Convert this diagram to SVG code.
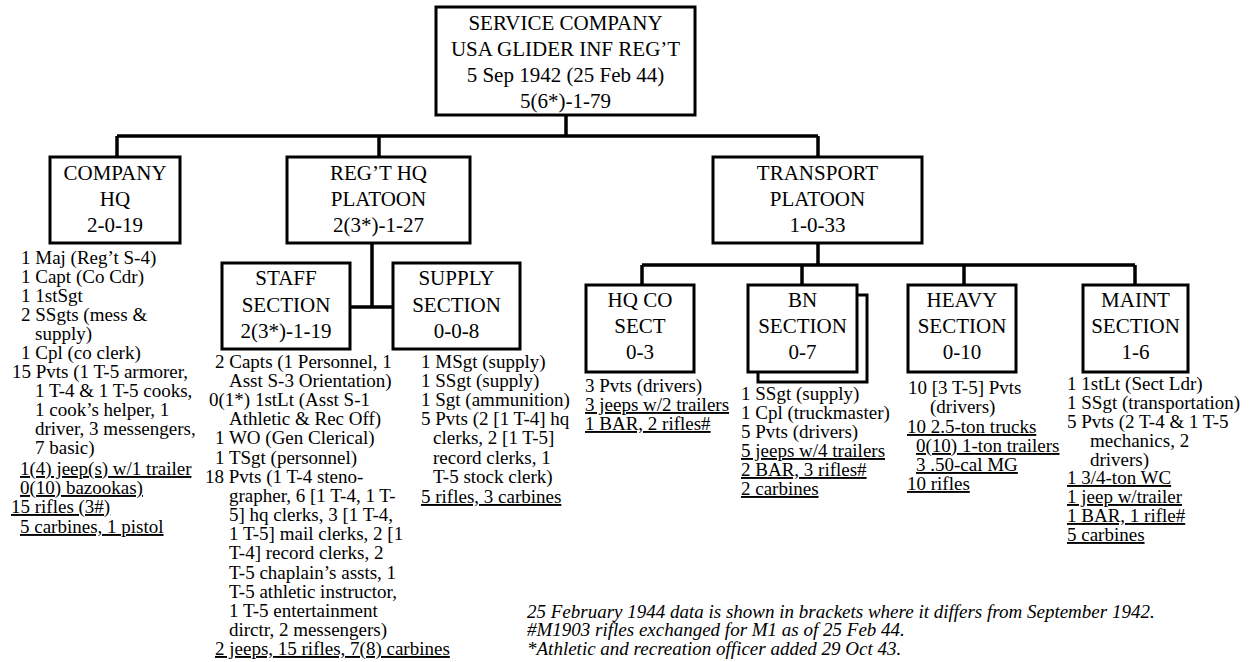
<svg xmlns="http://www.w3.org/2000/svg" width="1255" height="662" viewBox="0 0 1255 662" font-family="Liberation Serif">
<style>
.box{fill:#fff;stroke:#000;stroke-width:3}
.ln{fill:none;stroke:#000;stroke-width:3.5}
svg text.nt{font-family:Liberation Serif;font-size:21px;text-anchor:middle}
svg text.ls{font-family:Liberation Serif;font-size:19px}
svg text.ul{font-family:Liberation Serif;font-size:19px;text-decoration:underline}
svg text.fn{font-family:Liberation Serif;font-size:19px;font-style:italic}
</style>
<rect width="1255" height="662" fill="#fff"/>
<g id="connectors">
<path class="ln" d="M566 115V136M117 136H818M117 136V157M379 136V157M818 136V157"/>
<path class="ln" d="M372 243V307M350 307H393"/>
<path class="ln" d="M818 243V265M642 265H1135M642 265V285M802 265V285M964 265V285M1135 265V285"/>
</g>
<g id="service-company">
<rect class="box" x="436" y="7" width="259" height="108"/>
<text class="nt" x="565.5" y="30">SERVICE COMPANY</text>
<text class="nt" x="565.5" y="56">USA GLIDER INF REG’T</text>
<text class="nt" x="565.5" y="82">5 Sep 1942 (25 Feb 44)</text>
<text class="nt" x="565.5" y="108">5(6*)-1-79</text>
</g>
<g id="company-hq">
<rect class="box" x="50" y="157" width="130" height="86"/>
<text class="nt" x="115" y="180">COMPANY</text>
<text class="nt" x="115" y="206">HQ</text>
<text class="nt" x="115" y="232">2-0-19</text>
<text class="ls" x="21" y="264">1 Maj (Reg’t S-4)</text>
<text class="ls" x="21" y="283">1 Capt (Co Cdr)</text>
<text class="ls" x="21" y="302">1 1stSgt</text>
<text class="ls" x="21" y="321">2 SSgts (mess &amp;</text>
<text class="ls" x="35" y="340">supply)</text>
<text class="ls" x="21" y="359">1 Cpl (co clerk)</text>
<text class="ls" x="12" y="378">15 Pvts (1 T-5 armorer,</text>
<text class="ls" x="35" y="397">1 T-4 &amp; 1 T-5 cooks,</text>
<text class="ls" x="35" y="416">1 cook’s helper, 1</text>
<text class="ls" x="35" y="435">driver, 3 messengers,</text>
<text class="ls" x="35" y="454">7 basic)</text>
<text class="ul" x="20" y="475">1(4) jeep(s) w/1 trailer</text>
<text class="ul" x="20" y="494">0(10) bazookas)</text>
<text class="ul" x="11" y="513">15 rifles (3#)</text>
<text class="ul" x="20" y="533">5 carbines, 1 pistol</text>
</g>
<g id="regt-hq-platoon">
<rect class="box" x="287" y="157" width="183" height="86"/>
<text class="nt" x="378.5" y="180">REG’T HQ</text>
<text class="nt" x="378.5" y="206">PLATOON</text>
<text class="nt" x="378.5" y="232">2(3*)-1-27</text>
</g>
<g id="staff-section">
<rect class="box" x="222" y="263" width="128" height="86"/>
<text class="nt" x="286" y="285">STAFF</text>
<text class="nt" x="286" y="312">SECTION</text>
<text class="nt" x="286" y="338">2(3*)-1-19</text>
<text class="ls" x="215" y="368">2 Capts (1 Personnel, 1</text>
<text class="ls" x="229" y="387">Asst S-3 Orientation)</text>
<text class="ls" x="209" y="406">0(1*) 1stLt (Asst S-1</text>
<text class="ls" x="229" y="425">Athletic &amp; Rec Off)</text>
<text class="ls" x="215" y="444">1 WO (Gen Clerical)</text>
<text class="ls" x="215" y="464">1 TSgt (personnel)</text>
<text class="ls" x="205" y="483">18 Pvts (1 T-4 steno-</text>
<text class="ls" x="229" y="502">grapher, 6 [1 T-4, 1 T-</text>
<text class="ls" x="229" y="521">5] hq clerks, 3 [1 T-4,</text>
<text class="ls" x="229" y="540">1 T-5] mail clerks, 2 [1</text>
<text class="ls" x="229" y="559">T-4] record clerks, 2</text>
<text class="ls" x="229" y="579">T-5 chaplain’s assts, 1</text>
<text class="ls" x="229" y="598">T-5 athletic instructor,</text>
<text class="ls" x="229" y="617">1 T-5 entertainment</text>
<text class="ls" x="229" y="636">dirctr, 2 messengers)</text>
<text class="ul" x="215" y="655">2 jeeps, 15 rifles, 7(8) carbines</text>
</g>
<g id="supply-section">
<rect class="box" x="393" y="263" width="127" height="86"/>
<text class="nt" x="456.5" y="285">SUPPLY</text>
<text class="nt" x="456.5" y="312">SECTION</text>
<text class="nt" x="456.5" y="338">0-0-8</text>
<text class="ls" x="421" y="368">1 MSgt (supply)</text>
<text class="ls" x="421" y="387">1 SSgt (supply)</text>
<text class="ls" x="421" y="406">1 Sgt (ammunition)</text>
<text class="ls" x="421" y="425">5 Pvts (2 [1 T-4] hq</text>
<text class="ls" x="433" y="444">clerks, 2 [1 T-5]</text>
<text class="ls" x="433" y="464">record clerks, 1</text>
<text class="ls" x="433" y="483">T-5 stock clerk)</text>
<text class="ul" x="421" y="503">5 rifles, 3 carbines</text>
</g>
<g id="transport-platoon">
<rect class="box" x="713" y="157" width="209" height="86"/>
<text class="nt" x="817.5" y="180">TRANSPORT</text>
<text class="nt" x="817.5" y="206">PLATOON</text>
<text class="nt" x="817.5" y="232">1-0-33</text>
</g>
<g id="hq-co-sect">
<rect class="box" x="586" y="285" width="108" height="87"/>
<text class="nt" x="640" y="307">HQ CO</text>
<text class="nt" x="640" y="333">SECT</text>
<text class="nt" x="640" y="359">0-3</text>
<text class="ls" x="585" y="392">3 Pvts (drivers)</text>
<text class="ul" x="585" y="411">3 jeeps w/2 trailers</text>
<text class="ul" x="585" y="430">1 BAR, 2 rifles#</text>
</g>
<g id="bn-section">
<rect class="box" x="758" y="295" width="109" height="87"/>
<rect class="box" x="748" y="285" width="109" height="87"/>
<text class="nt" x="802.5" y="307">BN</text>
<text class="nt" x="802.5" y="333">SECTION</text>
<text class="nt" x="802.5" y="359">0-7</text>
<text class="ls" x="741" y="400">1 SSgt (supply)</text>
<text class="ls" x="741" y="419">1 Cpl (truckmaster)</text>
<text class="ls" x="741" y="438">5 Pvts (drivers)</text>
<text class="ul" x="741" y="457">5 jeeps w/4 trailers</text>
<text class="ul" x="741" y="476">2 BAR, 3 rifles#</text>
<text class="ul" x="741" y="495">2 carbines</text>
</g>
<g id="heavy-section">
<rect class="box" x="908" y="285" width="108" height="87"/>
<text class="nt" x="962" y="307">HEAVY</text>
<text class="nt" x="962" y="333">SECTION</text>
<text class="nt" x="962" y="359">0-10</text>
<text class="ls" x="908" y="394">10 [3 T-5] Pvts</text>
<text class="ls" x="930" y="413">(drivers)</text>
<text class="ul" x="907" y="433">10 2.5-ton trucks</text>
<text class="ul" x="916" y="452">0(10) 1-ton trailers</text>
<text class="ul" x="916" y="471">3 .50-cal MG</text>
<text class="ul" x="907" y="490">10 rifles</text>
</g>
<g id="maint-section">
<rect class="box" x="1083" y="285" width="105" height="87"/>
<text class="nt" x="1135.5" y="307">MAINT</text>
<text class="nt" x="1135.5" y="333">SECTION</text>
<text class="nt" x="1135.5" y="359">1-6</text>
<text class="ls" x="1067" y="390">1 1stLt (Sect Ldr)</text>
<text class="ls" x="1067" y="409">1 SSgt (transportation)</text>
<text class="ls" x="1067" y="428">5 Pvts (2 T-4 &amp; 1 T-5</text>
<text class="ls" x="1090" y="447">mechanics, 2</text>
<text class="ls" x="1090" y="466">drivers)</text>
<text class="ul" x="1067" y="484">1 3/4-ton WC</text>
<text class="ul" x="1067" y="503">1 jeep w/trailer</text>
<text class="ul" x="1067" y="522">1 BAR, 1 rifle#</text>
<text class="ul" x="1067" y="541">5 carbines</text>
</g>
<g id="notes">
<text class="fn" x="527" y="618">25 February 1944 data is shown in brackets where it differs from September 1942.</text>
<text class="fn" x="527" y="636">#M1903 rifles exchanged for M1 as of 25 Feb 44.</text>
<text class="fn" x="527" y="655">*Athletic and recreation officer added 29 Oct 43.</text>
</g>
</svg>
